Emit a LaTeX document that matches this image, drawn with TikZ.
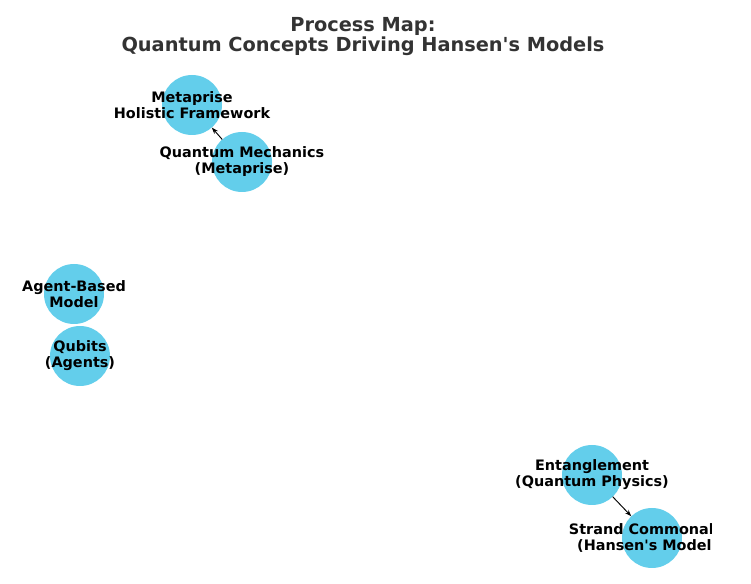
\documentclass[tikz,border=0pt]{standalone}
\usepackage{fontspec}
\setmainfont{DejaVu Sans}
\usepackage{xcolor}
\usetikzlibrary{arrows.meta}

\definecolor{nodeblue}{RGB}{99,206,235}
\definecolor{titlegray}{RGB}{51,51,51}

\tikzset{
    concept/.style={circle, fill=nodeblue, draw=none, minimum size=45pt, inner sep=0pt, outer sep=0pt},
    lbl/.style={align=center, font=\fontsize{10.8}{12}\selectfont\bfseries, inner sep=0pt},
    link/.style={-{Stealth[length=5pt,width=3.5pt]}, line width=0.7pt, black}
}

\begin{document}
\begin{tikzpicture}[x=0.75pt, y=-0.75pt]
        \useasboundingbox (0,0) rectangle (751,584);
        \node[align=center, text=titlegray, font=\fontsize{14.5}{15}\selectfont\bfseries] (title) at (363,37) {Process Map:\\Quantum Concepts Driving Hansen\textquotesingle s Models};
        \begin{scope}
        \clip (0,62) rectangle (711,584);
        \node[concept](meta) at (192,105) {};
        \node[concept](qm) at (242,162) {};
        \node[concept](abm) at (74,294) {};
        \node[concept](qubit) at (80,356) {};
        \node[concept](ent) at (592,475) {};
        \node[concept](strand) at (652,538) {};
        \node[lbl](metatxt) at (meta) {Metaprise\\Holistic Framework};
        \node[lbl](qmtxt) at (qm) {Quantum Mechanics\\(Metaprise)};
        \node[lbl](abmtxt) at (abm) {Agent-Based\\Model};
        \node[lbl](qubittxt) at (qubit) {Qubits\\(Agents)};
        \node[lbl](enttxt) at (ent) {Entanglement\\(Quantum Physics)};
        \node[lbl](strandtxt) at (strand) {Strand Commonality\\(Hansen\textquotesingle s Models)};
        \draw[link](qm)--(meta);
        \draw[link](ent)--(strand);
        \end{scope}
\end{tikzpicture}
\end{document}
